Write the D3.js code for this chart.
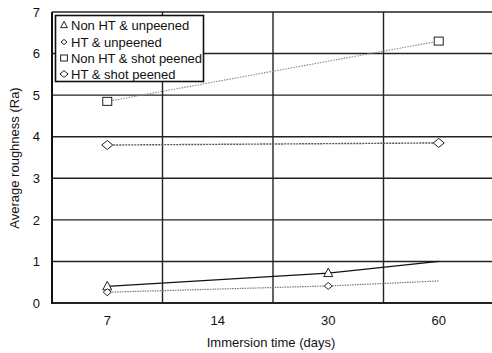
<!DOCTYPE html>
<html><head><meta charset="utf-8">
<script src="https://cdn.jsdelivr.net/npm/d3@7"></script>
<style>body{margin:0;background:#fff}svg{display:block}text{font-family:"Liberation Sans",Arial,sans-serif;fill:#111}</style>
</head><body><svg id="c" width="492" height="353"></svg>
<script>
const categories = ["7", "14", "30", "60"];
const yTicks = [0, 1, 2, 3, 4, 5, 6, 7];
const seriesNames = ["Non HT & unpeened", "HT & unpeened", "Non HT & shot peened", "HT & shot peened"];
const nonHtUnpeened = [0.4, null, 0.72, 1.0];
const htUnpeened = [0.26, null, 0.41, 0.53];
const nonHtPeened = [4.85, null, null, 6.3];
const htPeened = [3.8, null, null, 3.85];
const markerShown = [[true, false, true, false], [true, false, true, false], [true, false, false, true], [true, false, false, true]];

const svg = d3.select("#c");
const x = d3.scaleBand().domain(categories).range([52, 494]);
const y = d3.scaleLinear().domain([0, 7]).range([303, 12]);

svg.append("g").selectAll("line").data(yTicks).join("line")
  .attr("x1", 52).attr("x2", 492).attr("y1", d => y(d)).attr("y2", d => y(d))
  .attr("stroke", "#222").attr("stroke-width", d => d === 0 ? 2 : 1.4);
svg.append("g").selectAll("line").data(categories.slice(1)).join("line")
  .attr("x1", d => x(d)).attr("x2", d => x(d)).attr("y1", y(7)).attr("y2", y(0))
  .attr("stroke", "#222").attr("stroke-width", 1.4);
svg.append("line").attr("x1", 52).attr("x2", 52).attr("y1", y(7)).attr("y2", y(0) + 1)
  .attr("stroke", "#111").attr("stroke-width", 2);

const yAxis = d3.axisLeft(y).tickValues(yTicks).tickFormat(d3.format("d")).tickSize(0).tickPadding(12);
const ga = svg.append("g").attr("transform", "translate(52,0)").call(yAxis);
ga.select(".domain").remove();
ga.selectAll("text").attr("font-size", 13).attr("font-family", "Liberation Sans, Arial, sans-serif").attr("fill", "#111");
const xAxis = d3.axisBottom(x).tickSize(0).tickPadding(13);
const gx = svg.append("g").attr("transform", "translate(0,303)").call(xAxis);
gx.select(".domain").remove();
gx.selectAll("text").attr("font-size", 13).attr("font-family", "Liberation Sans, Arial, sans-serif").attr("fill", "#111");

svg.append("text").attr("x", 271).attr("y", 347).attr("text-anchor", "middle").attr("font-size", 13).text("Immersion time (days)");
svg.append("text").attr("transform", "translate(19,158) rotate(-90)").attr("text-anchor", "middle").attr("font-size", 13).text("Average roughness (Ra)");

const cx = c => x(c) + x.bandwidth() / 2;
const series = [
  {vals: nonHtUnpeened, stroke: "#111", dash: null, w: 1.2, sym: "tri"},
  {vals: htUnpeened, stroke: "#777", dash: "1.5,1", w: 1.2, sym: "smalldia"},
  {vals: nonHtPeened, stroke: "#888", dash: "1.5,1.2", w: 1.1, sym: "sq"},
  {vals: htPeened, stroke: "#555", dash: "2,1", w: 1.4, sym: "dia"}
];

function drawSym(g, sym, px, py, k) {
  const f = k || 1;
  if (sym === "tri") g.append("path").attr("d", `M${px},${py-5*f}L${px+4.5*f},${py+3.5*f}L${px-4.5*f},${py+3.5*f}Z`);
  else if (sym === "smalldia") g.append("path").attr("d", `M${px},${py-3.5*f}L${px+4*f},${py}L${px},${py+3.5*f}L${px-4*f},${py}Z`);
  else if (sym === "sq") g.append("rect").attr("x", px - 4.5*f).attr("y", py - 4*f).attr("width", 9*f).attr("height", 8*f);
  else g.append("path").attr("d", `M${px},${py-4.5*f}L${px+5.5*f},${py}L${px},${py+4.5*f}L${px-5.5*f},${py}Z`);
}

const line = d3.line().x(d => cx(d.c)).y(d => y(d.v));
series.forEach((s, i) => {
  const pts = categories.map((c, j) => ({c, v: s.vals[j], m: markerShown[i][j]})).filter(d => d.v !== null);
  svg.append("path").datum(pts).attr("d", line).attr("fill", "none")
    .attr("stroke", s.stroke).attr("stroke-width", s.w).attr("stroke-dasharray", s.dash);
  const g = svg.append("g").attr("fill", "#fff").attr("stroke", "#222").attr("stroke-width", 1);
  pts.filter(d => d.m).forEach(d => drawSym(g, s.sym, cx(d.c), y(d.v)));
});

const lg = svg.append("g");
lg.append("rect").attr("x", 55.5).attr("y", 15.5).attr("width", 148).attr("height", 66)
  .attr("fill", "#fff").attr("stroke", "#111").attr("stroke-width", 1.6);
const rowsY = [25, 42, 58, 74];
seriesNames.forEach((n, i) => {
  const sg = lg.append("g").attr("fill", "#fff").attr("stroke", "#222").attr("stroke-width", 1);
  drawSym(sg, series[i].sym, 64, rowsY[i], 0.75);
  lg.append("text").attr("x", 71).attr("y", rowsY[i] + 4.5).attr("font-size", 13).attr("textLength", n === seriesNames[2] ? 131 : null).text(n);
});
</script></body></html>
